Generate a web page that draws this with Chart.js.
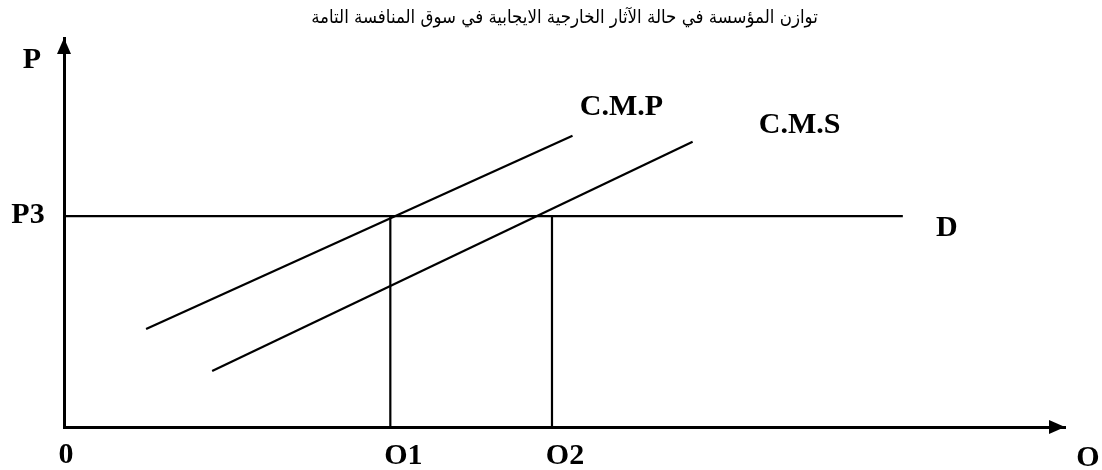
<!DOCTYPE html>
<html lang="ar">
<head>
<meta charset="utf-8">
<title>Équilibre de l'entreprise - externalités positives</title>
<script src="https://cdn.jsdelivr.net/npm/chart.js@4.4.1/dist/chart.umd.min.js"></script>
<style>
  html, body { margin: 0; padding: 0; background: #fff; }
  #zoneGraph { position: relative; width: 1102px; height: 470px; }
</style>
</head>
<body>
<div id="zoneGraph"><canvas id="graphEquilibre"></canvas></div>
<script>
// Données (unités arbitraires, axes de 0 à 100)
const S_titre = "توازن المؤسسة في حالة الآثار الخارجية الايجابية في سوق المنافسة التامة";

const A_cmpX = [8.2, 50.8];
const A_cmpY = [25.2, 74.9];
const A_cmsX = [14.8, 62.8];
const A_cmsY = [14.4, 73.3];
const A_demandeX = [0, 83.8];
const I_prixP3 = 54.2;
const A_quantites = [32.6, 48.75]; // O1, O2

// Libellés du schéma
const A_libellesAxes = ["P", "0", "O"];
const A_libellesQuantites = ["O1", "O2"];
const S_libellePrix = "P3";
const S_libelleDemande = "D";
const A_libellesCourbes = ["C.M.P", "C.M.S"];

/**
 * Construit une liste de points {x, y} à partir de deux tableaux.
 * @param {Array} A_x - Abscisses.
 * @param {Array} A_y - Ordonnées.
 * @return {Array} Points pour Chart.js.
 */
function F_points(A_x, A_y) {
  return A_x.map((I_x, I_i) => ({ x: I_x, y: A_y[I_i] }));
}

/**
 * Crée un jeu de données "trait noir" sans points.
 * @param {Array} A_data - Points du segment.
 * @return {Object} Jeu de données.
 */
function F_trait(A_data) {
  return {
    data: A_data,
    showLine: true,
    borderColor: "#000",
    borderWidth: 2.2,
    pointRadius: 0,
    fill: false,
  };
}

// Flèches des axes et libellés, placés depuis les échelles
const O_pluginSchema = {
  id: "schema",
  afterDraw(O_chart) {
    const O_ctx = O_chart.ctx;
    const O_x = O_chart.scales.x;
    const O_y = O_chart.scales.y;
    const F_px = (I_v) => O_x.getPixelForValue(I_v);
    const F_py = (I_v) => O_y.getPixelForValue(I_v);

    O_ctx.save();
    O_ctx.fillStyle = "#000";

    // Flèche de l'axe vertical
    const I_ox = F_px(0);
    const I_oy = F_py(0);
    const I_haut = F_py(O_y.max);
    O_ctx.beginPath();
    O_ctx.moveTo(I_ox, I_haut);
    O_ctx.lineTo(I_ox - 7, I_haut + 16);
    O_ctx.lineTo(I_ox + 7, I_haut + 16);
    O_ctx.closePath();
    O_ctx.fill();

    // Flèche de l'axe horizontal
    const I_droite = F_px(O_x.max);
    O_ctx.beginPath();
    O_ctx.moveTo(I_droite, I_oy);
    O_ctx.lineTo(I_droite - 16, I_oy - 7);
    O_ctx.lineTo(I_droite - 16, I_oy + 7);
    O_ctx.closePath();
    O_ctx.fill();

    // Libellés
    O_ctx.font = 'bold 30px "Liberation Serif", "Times New Roman", serif';
    O_ctx.textAlign = "center";
    O_ctx.textBaseline = "middle";
    O_ctx.direction = "ltr";

    O_ctx.fillText(A_libellesAxes[0], I_ox - 32, I_haut + 22);
    O_ctx.fillText(A_libellesAxes[1], I_ox + 2, I_oy + 28);
    O_ctx.fillText(A_libellesAxes[2], I_droite + 23, I_oy + 31);

    A_quantites.forEach((I_q, I_i) => {
      O_ctx.fillText(A_libellesQuantites[I_i], F_px(I_q) + 13, I_oy + 29);
    });

    O_ctx.fillText(S_libellePrix, I_ox - 36, F_py(I_prixP3) - 1);
    O_ctx.fillText(S_libelleDemande, F_px(A_demandeX[1]) + 44, F_py(I_prixP3) + 12);

    O_ctx.fillText(A_libellesCourbes[0], F_px(A_cmpX[1]) + 49, F_py(A_cmpY[1]) - 28);
    O_ctx.fillText(A_libellesCourbes[1], F_px(A_cmsX[1]) + 107, F_py(A_cmsY[1]) - 17);

    O_ctx.restore();
  },
};

const O_optionsAxe = {
  type: "linear",
  min: 0,
  max: 100,
  ticks: { display: false },
  grid: { display: false, drawTicks: false },
  border: { display: true, color: "#000", width: 3 },
};

const O_canvas = document.getElementById("graphEquilibre");
const O_chartEquilibre = new Chart(O_canvas.getContext("2d"), {
  type: "scatter",
  data: {
    datasets: [
      F_trait(F_points(A_demandeX, [I_prixP3, I_prixP3])),
      F_trait(F_points(A_cmpX, A_cmpY)),
      F_trait(F_points(A_cmsX, A_cmsY)),
      F_trait(F_points([A_quantites[0], A_quantites[0]], [I_prixP3, 0])),
      F_trait(F_points([A_quantites[1], A_quantites[1]], [I_prixP3, 0])),
    ],
  },
  options: {
    responsive: true,
    maintainAspectRatio: false,
    animation: false,
    layout: { padding: { left: 64, right: 37, top: 0, bottom: 43 } },
    plugins: {
      legend: { display: false },
      tooltip: { enabled: false },
      title: {
        display: true,
        text: S_titre,
        color: "#000",
        font: { family: "DejaVu Sans Condensed, DejaVu Sans", size: 18.5, weight: "normal" },
        padding: { top: 7, bottom: 8.8 },
      },
    },
    scales: {
      x: O_optionsAxe,
      y: O_optionsAxe,
    },
  },
  plugins: [O_pluginSchema],
});
</script>
</body>
</html>
